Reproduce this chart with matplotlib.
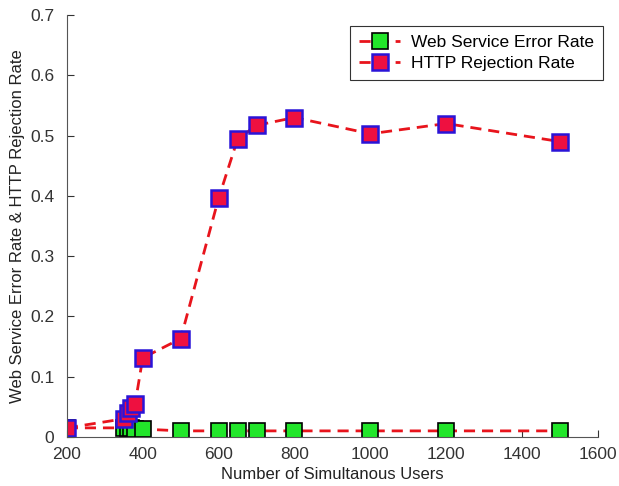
import matplotlib
matplotlib.use('Agg')
import matplotlib.pyplot as plt

plt.rcParams['font.family'] = ['Liberation Sans', 'DejaVu Sans']

users = [200, 350, 360, 370, 380, 400, 500, 600, 650, 700, 800, 1000, 1200, 1500]
ws_error = [0.015, 0.015, 0.014, 0.014, 0.013, 0.013, 0.01, 0.01, 0.01, 0.01, 0.01, 0.01, 0.01, 0.01]
http_reject = [0.015, 0.03, 0.04, 0.048, 0.055, 0.131, 0.163, 0.396, 0.494, 0.517, 0.53, 0.503, 0.52, 0.49]

fig = plt.figure(figsize=(6.19, 4.86), dpi=100)
ax = fig.add_axes([0.108, 0.101, 0.858, 0.868])

ax.plot(users, ws_error, '--s', color='#e8141c', lw=2, ms=11, dashes=(4, 2.5),
        mfc='#22e62a', mec='black', mew=1.2, label='Web Service Error Rate')
ax.plot(users, http_reject, '--s', color='#e8141c', lw=2, ms=11, dashes=(4, 2.5),
        mfc='#ee1040', mec='#2a14d8', mew=1.8, label='HTTP Rejection Rate')

ax.set_xlim(200, 1600)
ax.set_ylim(0, 0.7)
ax.set_xticks(range(200, 1601, 200))
ax.set_yticks([0, 0.1, 0.2, 0.3, 0.4, 0.5, 0.6, 0.7])
ax.set_yticklabels(['0', '0.1', '0.2', '0.3', '0.4', '0.5', '0.6', '0.7'])
ax.tick_params(direction='in', labelsize=12.5, colors='#333333', length=5)
ax.tick_params(axis='x', pad=7)
ax.tick_params(axis='y', pad=9)
ax.spines['top'].set_visible(False)
ax.spines['right'].set_visible(False)
for s in ['left', 'bottom']:
    ax.spines[s].set_color('#555555')

ax.set_xlabel('Number of Simultanous Users', fontsize=12, color='#222222', labelpad=4)
ax.set_ylabel('Web Service Error Rate & HTTP Rejection Rate', fontsize=12, color='#222222', labelpad=4)

leg = ax.legend(loc='upper right', bbox_to_anchor=(1.025, 0.995), fontsize=12.5, fancybox=False,
                edgecolor='black', handlelength=2.4, handletextpad=0.6, borderpad=0.5,
                labelspacing=0.35)
leg.get_frame().set_linewidth(0.8)

fig.savefig('out.png', dpi=100)
